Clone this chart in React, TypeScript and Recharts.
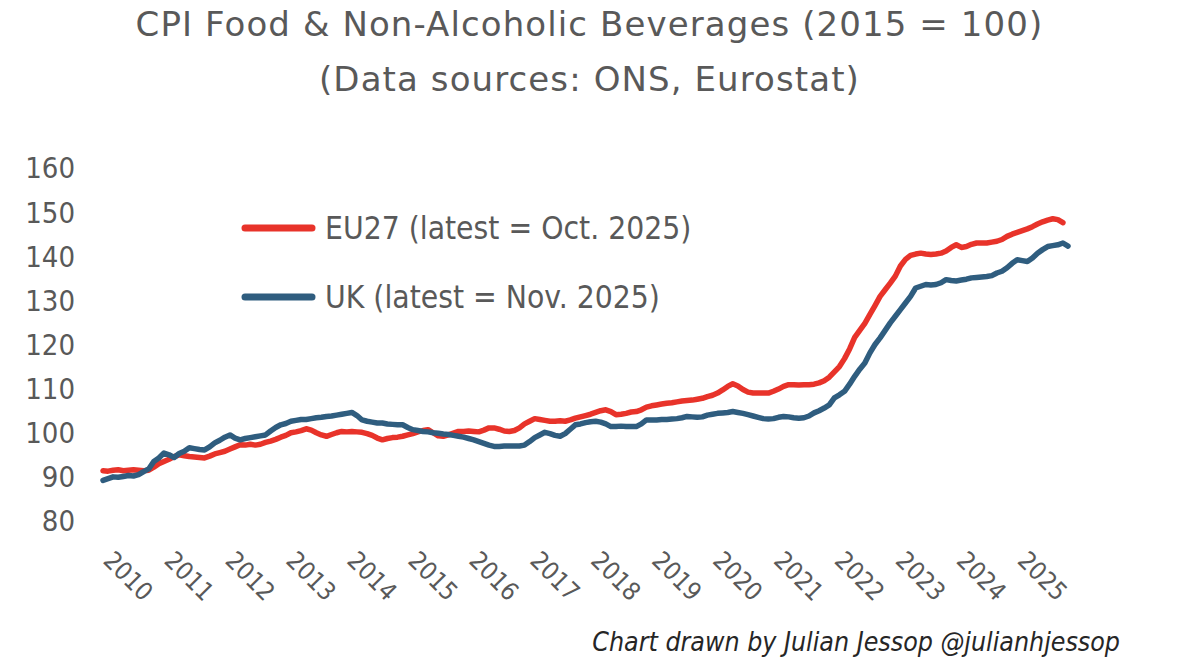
import { LineChart, Line, XAxis, YAxis, Legend } from 'recharts';

// Monthly index values, 2015 = 100.
// EU27 runs Jan 2010 to Oct 2025, UK runs Jan 2010 to Nov 2025.
const EU27_NAME = 'EU27 (latest = Oct. 2025)';
const UK_NAME = 'UK (latest = Nov. 2025)';

const EU27 = [
  // 2010
  91.4, 91.3, 91.5, 91.6, 91.4, 91.5, 91.6, 91.5, 91.4, 91.5, 92.2, 93.0,
  // 2011
  93.5, 94.0, 94.6, 95.0, 94.8, 94.6, 94.5, 94.4, 94.3, 94.7, 95.2, 95.5,
  // 2012
  95.8, 96.3, 96.8, 97.3, 97.2, 97.4, 97.2, 97.4, 97.8, 98.1, 98.5, 99.0,
  // 2013
  99.4, 100.0, 100.2, 100.5, 100.9, 100.6, 100.0, 99.5, 99.2, 99.6, 100.0, 100.3,
  // 2014
  100.2, 100.3, 100.2, 100.1, 99.8, 99.4, 98.8, 98.4, 98.7, 98.9, 99.0, 99.2,
  // 2015
  99.5, 99.8, 100.2, 100.5, 100.7, 100.0, 99.3, 99.2, 99.5, 99.9, 100.3, 100.3,
  // 2016
  100.4, 100.3, 100.2, 100.6, 101.1, 101.1, 100.8, 100.4, 100.3, 100.5, 101.1, 102.0,
  // 2017
  102.6, 103.2, 103.0, 102.8, 102.6, 102.6, 102.7, 102.6, 102.9, 103.3, 103.6, 103.9,
  // 2018
  104.2, 104.6, 105.0, 105.2, 104.8, 104.1, 104.2, 104.4, 104.7, 104.8, 105.2, 105.8,
  // 2019
  106.1, 106.3, 106.5, 106.7, 106.8, 107.0, 107.2, 107.3, 107.4, 107.6, 107.8, 108.2,
  // 2020
  108.5, 109.0, 109.7, 110.5, 111.1, 110.6, 109.8, 109.2, 109.0, 109.0, 109.0, 109.0,
  // 2021
  109.4, 109.9, 110.5, 110.9, 110.9, 110.8, 110.9, 110.9, 111.0, 111.3, 111.8, 112.6,
  // 2022
  113.8, 115.0, 116.8, 119.0, 121.6, 123.2, 124.8, 126.8, 128.8, 130.9, 132.4, 133.9,
  // 2023
  135.5, 137.8, 139.3, 140.2, 140.5, 140.7, 140.5, 140.4, 140.5, 140.7, 141.2, 142.0,
  // 2024
  142.6, 142.0, 142.2, 142.7, 143.0, 143.0, 143.0, 143.2, 143.4, 143.8, 144.5, 145.0,
  // 2025
  145.4, 145.8, 146.2, 146.7, 147.3, 147.8, 148.2, 148.5, 148.3, 147.6,
];

const UK = [
  // 2010
  89.2, 89.6, 90.0, 89.9, 90.1, 90.3, 90.2, 90.5, 91.2, 91.8, 93.5, 94.3,
  // 2011
  95.4, 95.0, 94.4, 95.3, 95.8, 96.6, 96.4, 96.2, 96.1, 96.8, 97.7, 98.3,
  // 2012
  99.0, 99.5, 98.8, 98.4, 98.7, 98.9, 99.1, 99.3, 99.5, 100.4, 101.2, 101.8,
  // 2013
  102.1, 102.6, 102.8, 103.0, 103.0, 103.2, 103.4, 103.5, 103.7, 103.8, 104.0, 104.2,
  // 2014
  104.4, 104.6, 103.9, 102.9, 102.6, 102.4, 102.2, 102.2, 102.0, 101.9, 101.8, 101.8,
  // 2015
  101.2, 100.7, 100.5, 100.3, 100.2, 100.0, 99.9, 99.7, 99.6, 99.4, 99.2, 99.0,
  // 2016
  98.7, 98.4, 98.0, 97.6, 97.2, 96.9, 96.9, 97.0, 97.0, 97.0, 97.0, 97.2,
  // 2017
  98.0, 98.9, 99.5, 100.1, 99.8, 99.4, 99.2, 99.8, 100.8, 101.8, 102.0, 102.3,
  // 2018
  102.5, 102.6, 102.4, 102.0, 101.4, 101.4, 101.5, 101.4, 101.4, 101.4, 102.0, 102.9,
  // 2019
  102.9, 102.9, 103.0, 103.0, 103.1, 103.2, 103.4, 103.7, 103.6, 103.5, 103.6, 104.0,
  // 2020
  104.2, 104.4, 104.5, 104.6, 104.8, 104.6, 104.4, 104.1, 103.8, 103.5, 103.2, 103.1,
  // 2021
  103.2, 103.5, 103.7, 103.6, 103.4, 103.3, 103.4, 103.8, 104.5, 105.0, 105.6, 106.3,
  // 2022
  107.9, 108.6, 109.4, 111.0, 112.8, 114.4, 115.8, 118.1, 120.0, 121.5, 123.2, 124.9,
  // 2023
  126.4, 127.9, 129.4, 130.9, 132.8, 133.2, 133.6, 133.5, 133.6, 134.0, 134.7, 134.5,
  // 2024
  134.4, 134.6, 134.8, 135.1, 135.2, 135.3, 135.4, 135.6, 136.2, 136.6, 137.4, 138.4,
  // 2025
  139.2, 139.0, 138.8, 139.6, 140.7, 141.5, 142.2, 142.4, 142.6, 143.0, 142.3,
];

const YEAR_LABELS = [
  '2010', '2011', '2012', '2013', '2014', '2015', '2016', '2017',
  '2018', '2019', '2020', '2021', '2022', '2023', '2024', '2025',
];

const Y_TICKS = [80, 90, 100, 110, 120, 130, 140, 150, 160];

const EU_RED = '#e8332a';
const UK_BLUE = '#2f5d7f';
const GREY = '#595959';
const NARROW = "'DejaVu Sans Condensed', 'DejaVu Sans', sans-serif";
const TITLE_FONT = "'DejaVu Sans', sans-serif";

const data = UK.map((uk, m) => ({ m, uk, eu: EU27[m] }));
const yearTicks = YEAR_LABELS.map((_, i) => i * 12);

function YearTick({ x, y, payload }: any) {
  const label = YEAR_LABELS[Math.round(payload.value / 12)];
  return (
    <text
      transform={`translate(${x - 1}, ${y + 41}) rotate(45)`}
      fill={GREY}
      fontSize={25}
      fontFamily={NARROW}
      textAnchor="start"
    >
      {label}
    </text>
  );
}

function LeftTick({ x, y, payload }: any) {
  return (
    <text x={x} y={y} dy="0.36em" fill={GREY} fontSize={29} fontFamily={NARROW} textAnchor="end">
      {payload.value}
    </text>
  );
}

function RightTick({ x, y, payload }: any) {
  return (
    <text x={x} y={y} dy="0.36em" fill={GREY} fontSize={29} fontFamily={NARROW} textAnchor="start">
      {payload.value}
    </text>
  );
}

function LegendBox({ payload }: any) {
  return (
    <div>
      {(payload || []).map((p: any) => (
        <div key={p.value} style={{ display: 'flex', alignItems: 'center', height: 69 }}>
          <svg width={80} height={12}>
            <line x1={4} y1={6} x2={71} y2={6} stroke={p.color} strokeWidth={7} strokeLinecap="round" />
          </svg>
          <span style={{ fontSize: 31.5, color: GREY, fontFamily: NARROW, marginLeft: 4, whiteSpace: 'nowrap' }}>
            {p.value}
          </span>
        </div>
      ))}
    </div>
  );
}

export default function App() {
  const titleStyle = {
    position: 'absolute' as const, left: 0, width: 1179, textAlign: 'center' as const,
    fontFamily: TITLE_FONT, fontSize: 34, lineHeight: '34px', color: GREY, letterSpacing: 1.1,
  };
  return (
    <div style={{ position: 'absolute', left: 0, top: 0, width: 1179, height: 658, background: '#fff', overflow: 'hidden' }}>
      <div style={{ ...titleStyle, top: 7 }}>CPI Food &amp; Non-Alcoholic Beverages (2015 = 100)</div>
      <div style={{ ...titleStyle, top: 62 }}>(Data sources: ONS, Eurostat)</div>

      <LineChart
        width={1179}
        height={658}
        data={data}
        margin={{ top: 168, right: 51, bottom: 57, left: 43 }}
        style={{ position: 'absolute', left: 0, top: 0 }}
      >
        <XAxis
          dataKey="m"
          type="number"
          domain={[0, 190]}
          ticks={yearTicks}
          interval={0}
          axisLine={false}
          tickLine={false}
          tickSize={0}
          tickMargin={0}
          height={80}
          tick={<YearTick />}
        />
        <YAxis
          yAxisId="left"
          orientation="left"
          domain={[80, 160]}
          ticks={Y_TICKS}
          axisLine={false}
          tickLine={false}
          tickSize={0}
          tickMargin={28}
          width={60}
          tick={<LeftTick />}
        />
        <YAxis
          yAxisId="right"
          orientation="right"
          domain={[80, 160]}
          ticks={Y_TICKS}
          axisLine={false}
          tickLine={false}
          tickSize={0}
          tickMargin={37}
          width={60}
          tick={<RightTick />}
        />
        <Legend
          layout="horizontal"
          verticalAlign="middle"
          align="center"
          content={<LegendBox />}
          wrapperStyle={{ top: 193, left: 241, width: 520 }}
        />
        <Line
          yAxisId="left"
          dataKey="eu"
          name={EU27_NAME}
          type="linear"
          stroke={EU_RED}
          strokeWidth={5.5}
          strokeLinejoin="round"
          strokeLinecap="round"
          dot={false}
          isAnimationActive={false}
        />
        <Line
          yAxisId="left"
          dataKey="uk"
          name={UK_NAME}
          type="linear"
          stroke={UK_BLUE}
          strokeWidth={5.5}
          strokeLinejoin="round"
          strokeLinecap="round"
          dot={false}
          isAnimationActive={false}
        />
      </LineChart>

      <div
        style={{
          position: 'absolute', right: 59, top: 628, fontFamily: NARROW, fontStyle: 'italic',
          fontSize: 26.5, lineHeight: '27px', color: '#262626', whiteSpace: 'nowrap',
        }}
      >
        Chart drawn by Julian Jessop @julianhjessop
      </div>
    </div>
  );
}
